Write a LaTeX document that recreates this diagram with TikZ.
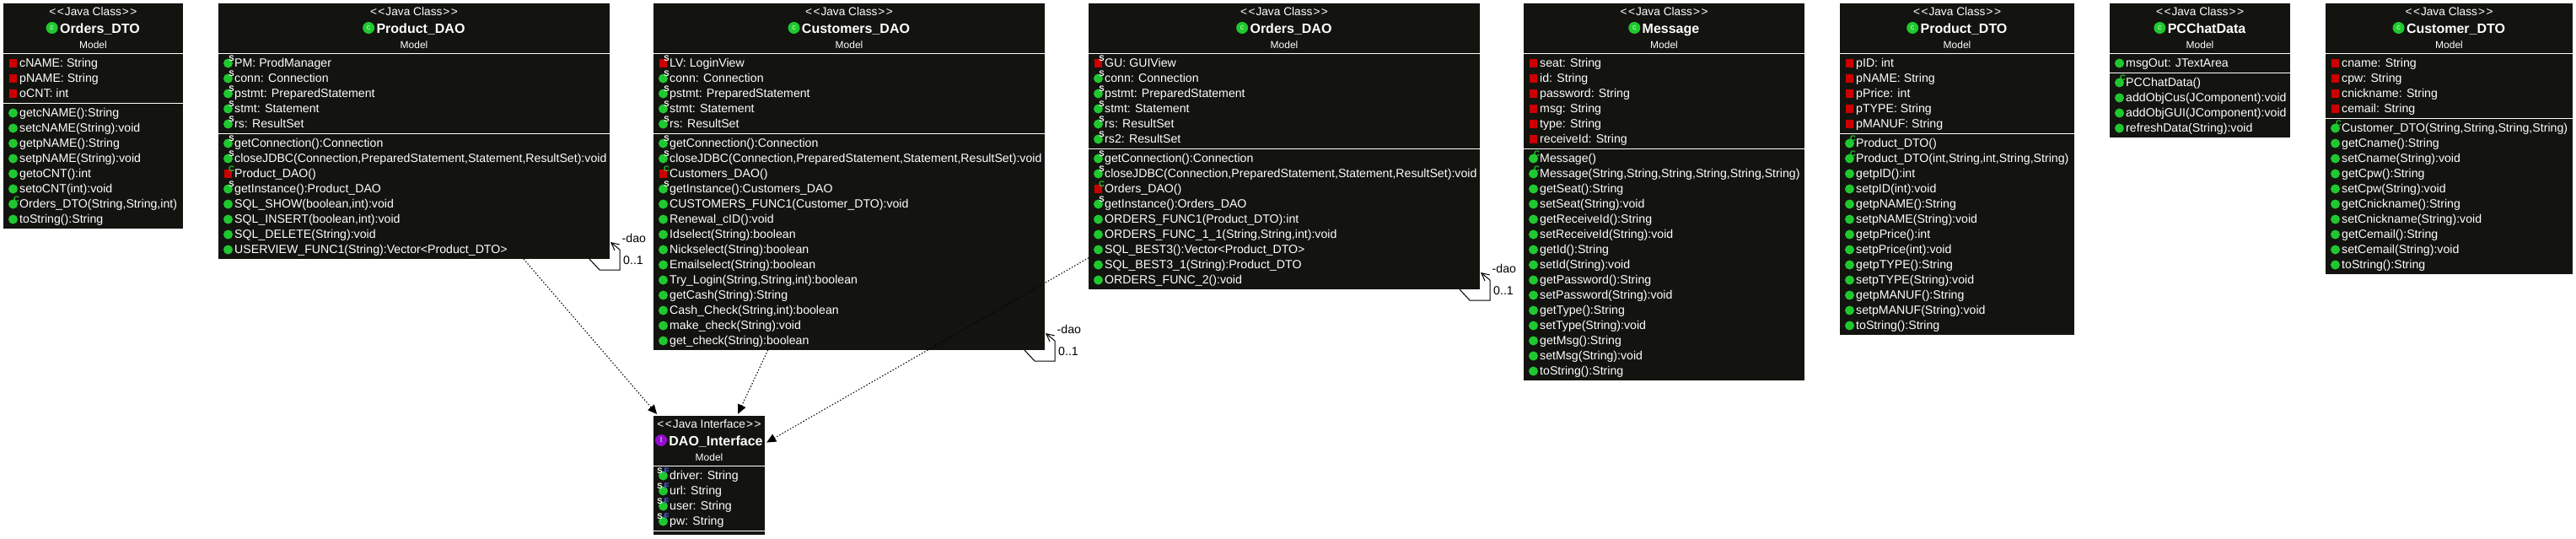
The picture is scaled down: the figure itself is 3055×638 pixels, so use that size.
\documentclass[tikz,border=0pt]{standalone}
\usepackage{fontspec}
\setmainfont{Liberation Sans}
\newfontfamily\iconserif{Liberation Serif}
\usetikzlibrary{arrows.meta}

\definecolor{boxblack}{RGB}{19,20,15}
\definecolor{pubgreen}{RGB}{32,200,48}
\definecolor{prvred}{RGB}{204,0,0}
\definecolor{ifpurple}{RGB}{150,10,210}
\definecolor{finalblue}{RGB}{80,100,255}
\definecolor{paleletter}{RGB}{200,255,200}

\newcommand{\stereofont}{\fontsize{13.7}{16}\selectfont}
\newcommand{\titlefont}{\fontsize{16}{18}\selectfont\bfseries}
\newcommand{\packfont}{\fontsize{12}{14}\selectfont}
\newcommand{\memberfont}{\fontsize{14.15}{16}\selectfont}
\newcommand{\tagfont}{\fontsize{9.5}{10}\selectfont\bfseries}
\newcommand{\openmark}{{<}\kern1.5pt{<}\kern1pt}
\newcommand{\closemark}{\kern1pt{>}\kern1.5pt{>}}

\tikzset{
  classbox/.style={fill=boxblack, anchor=north west, inner sep=0pt, outer sep=0pt},
  sepline/.style={draw=white, line width=1pt},
  headtext/.style={text=white, anchor=base, inner sep=0pt},
  member/.style={text=white, font=\memberfont, anchor=base west, inner sep=0pt},
  roundicon/.style={circle, inner sep=0pt, minimum size=11pt, fill=pubgreen},
  squareicon/.style={rectangle, inner sep=0pt, minimum size=9.5pt, fill=prvred},
  statictag/.style={font=\tagfont, text=white, inner sep=0pt, xshift=4pt, yshift=6pt},
  ctortag/.style={font=\tagfont, text=pubgreen, inner sep=0pt, xshift=4pt, yshift=6pt},
  pub/.style={roundicon},
  prv/.style={squareicon},
  spub/.style={roundicon, label={[statictag]center:S}},
  sprv/.style={squareicon, label={[statictag]center:S}},
  cpub/.style={roundicon, label={[ctortag]center:C}},
  cprv/.style={squareicon, label={[ctortag]center:C}},
  sfin/.style={roundicon,
    label={[statictag, xshift=-8pt]center:S},
    label={[statictag, text=finalblue]center:F}},
  kindicon/.style={circle, inner sep=0pt, minimum size=14pt, text=paleletter,
    font=\fontsize{9}{10}\selectfont, anchor=east},
  depends/.style={dash pattern=on 1.4pt off 2.2pt, line width=1.1pt, shorten >=2.5pt,
    -{Triangle[length=11pt,width=10pt]}},
  selfline/.style={line width=1pt, -{Straight Barb[length=9pt,width=9pt]}},
  assoclabel/.style={font=\memberfont, anchor=base west, inner sep=0pt},
}

% id, x, y, width, height, stereotype, title, icon colour, icon letter
\newcommand{\umlclass}[9]{
  \node (#1) [classbox, minimum width=#4pt, minimum height=#5pt] at (#2,#3) {};
  \node (#1-stereo) [headtext, font=\stereofont] at ([yshift=-14.3pt]#1.north) {\openmark #6\closemark};
  \node (#1-title) [headtext, font=\titlefont, xshift=8pt] at ([yshift=-35pt]#1.north) {#7};
  \node (#1-icon) [kindicon, fill=#8, xshift=-2pt, yshift=6pt] at (#1-title.base west) {#9};
  \node (#1-pack) [headtext, font=\packfont] at ([yshift=-53.3pt]#1.north) {Model};
}
\newcommand{\classsep}[2]{
  \draw[sepline] ([yshift=-#2pt]#1.north west) -- ([yshift=-#2pt]#1.north east);
}
% id, prefix, offset of the first row, list of kind/text
\newcommand{\memberrows}[4]{
  \foreach \k/\t [count=\i] in {#4}{
    \pgfmathsetmacro\rowy{#3+18*(\i-1)}
    \pgfmathsetmacro\rowbase{\rowy+4.5}
    \node (#1-#2i\i) [\k] at ([xshift=11.5pt,yshift=-\rowy pt]#1.north west) {};
    \node (#1-#2\i) [member] at ([xshift=19pt,yshift=-\rowbase pt]#1.north west) {\t};
  }
}
\newcommand{\selfassoc}[1]{
  \draw[selfline] ([xshift=-24pt]#1.south east) -- ++(12,13) -- ++(24,0) -- ++(0,-24)
    -- ([xshift=1pt,yshift=20pt]#1.south east);
  \node (#1-role) [assoclabel] at ([xshift=14.5pt,yshift=19.5pt]#1.south east) {-dao};
  \node (#1-mult) [assoclabel] at ([xshift=16pt,yshift=-6pt]#1.south east) {0..1};
}

\begin{document}
\begin{tikzpicture}[x=1pt,y=-1pt]
\useasboundingbox (0,0) rectangle (3055,638);

\umlclass{Orders_DTO}{4}{4}{213}{267}{Java Class}{Orders\_DTO}{pubgreen}{c}
\classsep{Orders_DTO}{59}
\classsep{Orders_DTO}{118}
\memberrows{Orders_DTO}{a}{71}{prv/{cNAME: String},prv/{pNAME: String},prv/{oCNT: int}}
\memberrows{Orders_DTO}{m}{130}{pub/{getcNAME():String},pub/{setcNAME(String):void},pub/{getpNAME():String},pub/{setpNAME(String):void},pub/{getoCNT():int},pub/{setoCNT(int):void},cpub/{Orders\_DTO(String,String,int)},pub/{toString():String}}

\umlclass{Product_DAO}{259}{4}{464}{303}{Java Class}{Product\_DAO}{pubgreen}{c}
\classsep{Product_DAO}{59}
\classsep{Product_DAO}{154}
\memberrows{Product_DAO}{a}{71}{spub/{PM: ProdManager},spub/{conn: Connection},spub/{pstmt: PreparedStatement},spub/{stmt: Statement},spub/{rs: ResultSet}}
\memberrows{Product_DAO}{m}{166}{spub/{getConnection():Connection},spub/{closeJDBC(Connection,PreparedStatement,Statement,ResultSet):void},cprv/{Product\_DAO()},spub/{getInstance():Product\_DAO},pub/{SQL\_SHOW(boolean,int):void},pub/{SQL\_INSERT(boolean,int):void},pub/{SQL\_DELETE(String):void},pub/{USERVIEW\_FUNC1(String):Vector<Product\_DTO>}}

\umlclass{Customers_DAO}{775}{4}{464}{411}{Java Class}{Customers\_DAO}{pubgreen}{c}
\classsep{Customers_DAO}{59}
\classsep{Customers_DAO}{154}
\memberrows{Customers_DAO}{a}{71}{sprv/{LV: LoginView},spub/{conn: Connection},spub/{pstmt: PreparedStatement},spub/{stmt: Statement},spub/{rs: ResultSet}}
\memberrows{Customers_DAO}{m}{166}{spub/{getConnection():Connection},spub/{closeJDBC(Connection,PreparedStatement,Statement,ResultSet):void},cprv/{Customers\_DAO()},spub/{getInstance():Customers\_DAO},pub/{CUSTOMERS\_FUNC1(Customer\_DTO):void},pub/{Renewal\_cID():void},pub/{Idselect(String):boolean},pub/{Nickselect(String):boolean},pub/{Emailselect(String):boolean},pub/{Try\_Login(String,String,int):boolean},pub/{getCash(String):String},pub/{Cash\_Check(String,int):boolean},pub/{make\_check(String):void},pub/{get\_check(String):boolean}}

\umlclass{Orders_DAO}{1291}{4}{464}{339}{Java Class}{Orders\_DAO}{pubgreen}{c}
\classsep{Orders_DAO}{59}
\classsep{Orders_DAO}{172}
\memberrows{Orders_DAO}{a}{71}{sprv/{GU: GUIView},spub/{conn: Connection},spub/{pstmt: PreparedStatement},spub/{stmt: Statement},spub/{rs: ResultSet},spub/{rs2: ResultSet}}
\memberrows{Orders_DAO}{m}{184}{spub/{getConnection():Connection},spub/{closeJDBC(Connection,PreparedStatement,Statement,ResultSet):void},cprv/{Orders\_DAO()},spub/{getInstance():Orders\_DAO},pub/{ORDERS\_FUNC1(Product\_DTO):int},pub/{ORDERS\_FUNC\_1\_1(String,String,int):void},pub/{SQL\_BEST3():Vector<Product\_DTO>},pub/{SQL\_BEST3\_1(String):Product\_DTO},pub/{ORDERS\_FUNC\_2():void}}

\umlclass{Message}{1807}{4}{333}{447}{Java Class}{Message}{pubgreen}{c}
\classsep{Message}{59}
\classsep{Message}{172}
\memberrows{Message}{a}{71}{prv/{seat: String},prv/{id: String},prv/{password: String},prv/{msg: String},prv/{type: String},prv/{receiveId: String}}
\memberrows{Message}{m}{184}{cpub/{Message()},cpub/{Message(String,String,String,String,String,String)},pub/{getSeat():String},pub/{setSeat(String):void},pub/{getReceiveId():String},pub/{setReceiveId(String):void},pub/{getId():String},pub/{setId(String):void},pub/{getPassword():String},pub/{setPassword(String):void},pub/{getType():String},pub/{setType(String):void},pub/{getMsg():String},pub/{setMsg(String):void},pub/{toString():String}}

\umlclass{Product_DTO}{2182}{4}{278}{393}{Java Class}{Product\_DTO}{pubgreen}{c}
\classsep{Product_DTO}{59}
\classsep{Product_DTO}{154}
\memberrows{Product_DTO}{a}{71}{prv/{pID: int},prv/{pNAME: String},prv/{pPrice: int},prv/{pTYPE: String},prv/{pMANUF: String}}
\memberrows{Product_DTO}{m}{166}{cpub/{Product\_DTO()},cpub/{Product\_DTO(int,String,int,String,String)},pub/{getpID():int},pub/{setpID(int):void},pub/{getpNAME():String},pub/{setpNAME(String):void},pub/{getpPrice():int},pub/{setpPrice(int):void},pub/{getpTYPE():String},pub/{setpTYPE(String):void},pub/{getpMANUF():String},pub/{setpMANUF(String):void},pub/{toString():String}}

\umlclass{PCChatData}{2502}{4}{214}{159}{Java Class}{PCChatData}{pubgreen}{c}
\classsep{PCChatData}{59}
\classsep{PCChatData}{82}
\memberrows{PCChatData}{a}{71}{pub/{msgOut: JTextArea}}
\memberrows{PCChatData}{m}{94}{cpub/{PCChatData()},pub/{addObjCus(JComponent):void},pub/{addObjGUI(JComponent):void},pub/{refreshData(String):void}}

\umlclass{Customer_DTO}{2758}{4}{293}{321}{Java Class}{Customer\_DTO}{pubgreen}{c}
\classsep{Customer_DTO}{59}
\classsep{Customer_DTO}{136}
\memberrows{Customer_DTO}{a}{71}{prv/{cname: String},prv/{cpw: String},prv/{cnickname: String},prv/{cemail: String}}
\memberrows{Customer_DTO}{m}{148}{cpub/{Customer\_DTO(String,String,String,String)},pub/{getCname():String},pub/{setCname(String):void},pub/{getCpw():String},pub/{setCpw(String):void},pub/{getCnickname():String},pub/{setCnickname(String):void},pub/{getCemail():String},pub/{setCemail(String):void},pub/{toString():String}}

\umlclass{DAO_Interface}{775}{493}{132}{141}{Java Interface}{DAO\_Interface}{ifpurple}{\iconserif I}
\classsep{DAO_Interface}{59}
\classsep{DAO_Interface}{136}
\memberrows{DAO_Interface}{a}{71}{sfin/{driver: String},sfin/{url: String},sfin/{user: String},sfin/{pw: String}}

\draw[depends] (Product_DAO) -- (DAO_Interface);
\draw[depends] (Customers_DAO) -- (DAO_Interface);
\draw[depends] (Orders_DAO) -- (DAO_Interface);

\selfassoc{Product_DAO}
\selfassoc{Customers_DAO}
\selfassoc{Orders_DAO}
\end{tikzpicture}
\end{document}
